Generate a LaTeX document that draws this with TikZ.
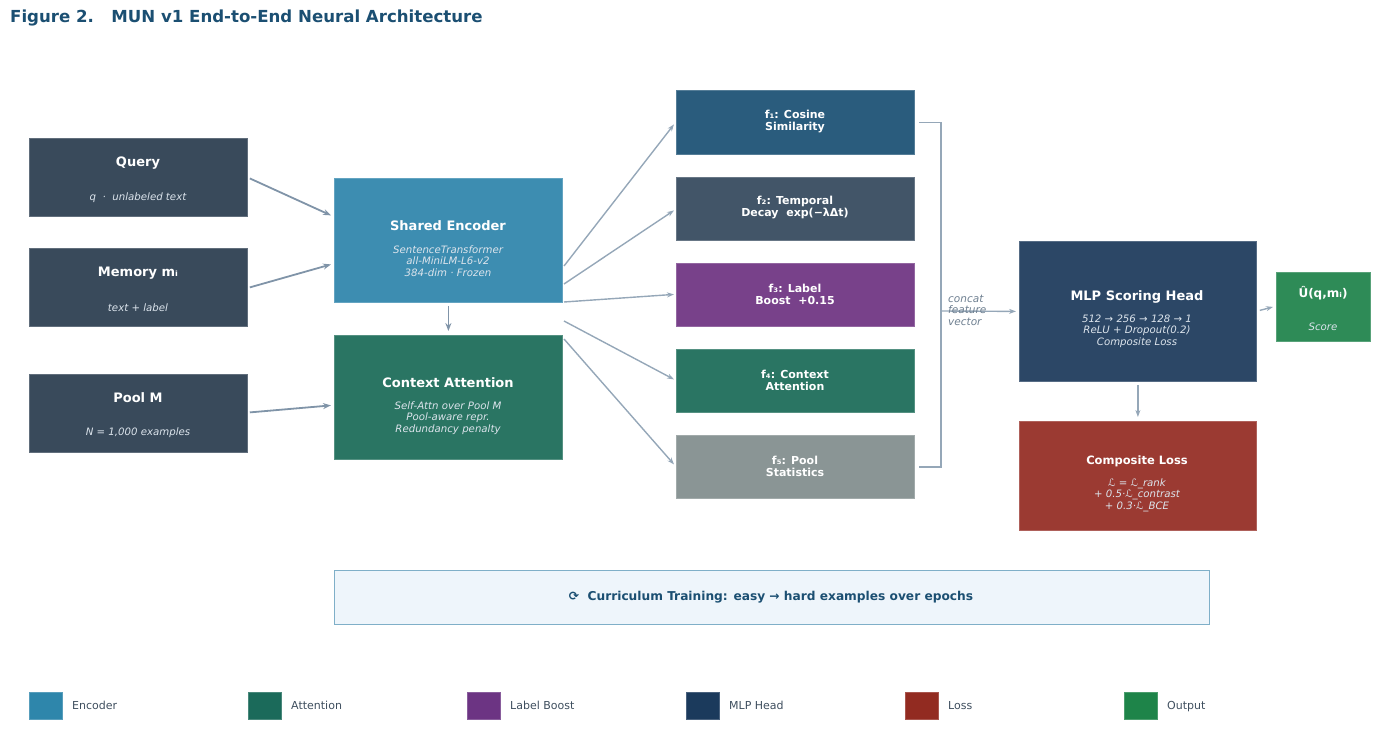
\documentclass[tikz,border=0pt]{standalone}
\usepackage{fontspec}
\setmainfont{DejaVu Sans}
\usetikzlibrary{arrows.meta,calc}
\definecolor{cinp}{HTML}{394A5B}
\definecolor{cenc}{HTML}{3D8DB1}
\definecolor{cctx}{HTML}{2A7563}
\definecolor{cfa}{HTML}{2A5C7D}
\definecolor{cfb}{HTML}{425568}
\definecolor{cfc}{HTML}{78418A}
\definecolor{cfd}{HTML}{2A7563}
\definecolor{cfe}{HTML}{8A9595}
\definecolor{cmlp}{HTML}{2C4766}
\definecolor{cscore}{HTML}{2E8B57}
\definecolor{closs}{HTML}{9B3A32}
\definecolor{ccurfill}{HTML}{EEF5FB}
\definecolor{ccurdraw}{HTML}{7FAFC8}
\definecolor{ctitle}{HTML}{1B4F72}
\definecolor{carrow}{HTML}{8094A8}
\definecolor{carrowb}{HTML}{95A7B8}
\definecolor{clegtext}{HTML}{3E4E5E}
\definecolor{csub}{HTML}{DCE4EC}
\definecolor{cconcat}{HTML}{6E7F90}
\definecolor{lgenc}{HTML}{2E86AB}
\definecolor{lgatt}{HTML}{1B6A5A}
\definecolor{lglab}{HTML}{6C3483}
\definecolor{lgmlp}{HTML}{1B3A5C}
\definecolor{lgloss}{HTML}{922B21}
\definecolor{lgout}{HTML}{1E8449}
\begin{document}
\begin{tikzpicture}[x=1pt,y=-1pt,
  box/.style={fill=#1, draw=#1!80!white, line width=0.8pt, inner sep=0pt, anchor=north west},
  ttl/.style={text=white, font=\bfseries\fontsize{13}{15}\selectfont, inner sep=0pt},
  sub/.style={text=csub, font=\itshape\fontsize{10.2}{11.5}\selectfont, align=center, inner sep=0pt},
  ftxt/.style={text=white, font=\bfseries\fontsize{11}{12}\selectfont, align=center, inner sep=0pt},
  arr/.style={-{Stealth[length=8pt,width=6pt]}, line width=1.8pt, draw=carrow},
  arrb/.style={-{Stealth[length=7pt,width=5pt]}, line width=1.4pt, draw=carrowb},
  brk/.style={line width=1.6pt, draw=carrowb},
  legsq/.style={inner sep=0pt, minimum width=33pt, minimum height=27pt, anchor=north west, fill=#1, draw=#1!80!white, line width=0.6pt},
  legtx/.style={anchor=base west, text=clegtext, font=\fontsize{11}{13}\selectfont, inner sep=0pt}
]
\useasboundingbox (0,0) rectangle (1400,752);

% title
\node[anchor=west, text=ctitle, font=\bfseries\fontsize{16.6}{18}\selectfont, inner sep=0pt] (title) at (10,18) {Figure 2.\ \ \ MUN v1 End-to-End Neural Architecture};

% inputs
\node[box=cinp, minimum width=218pt, minimum height=78pt] (query) at (29,138) {};
\node[ttl] (queryt) at (138,163) {Query};
\node[sub] (querys) at (138,198) {q \ · \ unlabeled text};

\node[box=cinp, minimum width=218pt, minimum height=78pt] (mem) at (29,248) {};
\node[ttl] (memt) at (138,273) {Memory mᵢ};
\node[sub] (mems) at (138,308) {text + label};

\node[box=cinp, minimum width=218pt, minimum height=78pt] (pool) at (29,374) {};
\node[ttl] (poolt) at (138,398) {Pool M};
\node[sub] (pools) at (138,433) {N = 1,000 examples};

% encoder & context
\node[box=cenc, minimum width=228pt, minimum height=124pt] (enc) at (334,178) {};
\node[ttl] (enct) at (448,226) {Shared Encoder};
\node[sub] (encs) at (448,261) {SentenceTransformer\\all-MiniLM-L6-v2\\384-dim · Frozen};

\node[box=cctx, minimum width=228pt, minimum height=124pt] (ctx) at (334,335) {};
\node[ttl] (ctxt) at (448,383) {Context Attention};
\node[sub] (ctxs) at (448,418) {Self-Attn over Pool M\\Pool-aware repr.\\Redundancy penalty};

% feature boxes
\node[box=cfa, minimum width=238pt, minimum height=64pt] (fa) at (676,90) {};
\node[ftxt] (fat) at (795,122) {f₁: Cosine\\Similarity};
\node[box=cfb, minimum width=238pt, minimum height=63pt] (fb) at (676,177) {};
\node[ftxt] (fbt) at (795,208) {f₂: Temporal\\Decay\ \ exp(−λΔt)};
\node[box=cfc, minimum width=238pt, minimum height=63pt] (fc) at (676,263) {};
\node[ftxt] (fct) at (795,294) {f₃: Label\\Boost\ \ +0.15};
\node[box=cfd, minimum width=238pt, minimum height=63pt] (fd) at (676,349) {};
\node[ftxt] (fdt) at (795,380) {f₄: Context\\Attention};
\node[box=cfe, minimum width=238pt, minimum height=63pt] (fe) at (676,435) {};
\node[ftxt] (fet) at (795,466) {f₅: Pool\\Statistics};

% MLP, score, loss
\node[box=cmlp, minimum width=237pt, minimum height=140pt] (mlp) at (1019,241) {};
\node[ttl] (mlpt) at (1137,297) {MLP Scoring Head};
\node[sub] (mlps) at (1137,331) {512 → 256 → 128 → 1\\ReLU + Dropout(0.2)\\Composite Loss};

\node[box=cscore, minimum width=94pt, minimum height=69pt] (score) at (1276,272) {};
\node[ttl, font=\bfseries\fontsize{12}{14}\selectfont] (scoret) at (1323,293) {Û(q,mᵢ)};
\node[sub] (scores) at (1323,327) {Score};

\node[box=closs, minimum width=237pt, minimum height=109pt] (loss) at (1019,421) {};
\node[ttl, font=\bfseries\fontsize{11.5}{13}\selectfont] (losst) at (1137,461) {Composite Loss};
\node[sub] (losss) at (1137,495) {ℒ = ℒ\_rank\\+ 0.5·ℒ\_contrast\\+ 0.3·ℒ\_BCE};

% curriculum
\node[anchor=north west, fill=ccurfill, draw=ccurdraw, line width=0.8pt, minimum width=875pt, minimum height=54pt, inner sep=0pt] (cur) at (334,570) {};
\node[text=ctitle, font=\bfseries\fontsize{12.2}{14}\selectfont, inner sep=0pt] (curt) at (771,597) {⟳\ \ Curriculum Training: easy → hard examples over epochs};

% arrows inputs -> encoder/context
\draw[arr] ($(query.east)+(2,1)$) -- ($(enc.west)+(-3,-25)$);
\draw[arr] ($(mem.east)+(2,0)$) -- ($(enc.west)+(-3,24)$);
\draw[arr] ($(pool.east)+(2,-1)$) -- ($(ctx.west)+(-3,8)$);
\draw[arr] ($(enc.south)+(0,3)$) -- ($(ctx.north)+(0,-4)$);

% encoder -> features
\coordinate (s1) at (564,266);
\coordinate (s2) at (564,284);
\coordinate (s3) at (564,302);
\coordinate (s4) at (564,321);
\coordinate (s5) at (564,339);
\draw[arrb] (s1) -- ($(fa.west)+(-2,2)$);
\draw[arrb] (s2) -- ($(fb.west)+(-2,1.5)$);
\draw[arrb] (s3) -- ($(fc.west)+(-2,-0.5)$);
\draw[arrb] (s4) -- ($(fd.west)+(-2,-1.5)$);
\draw[arrb] (s5) -- ($(fe.west)+(-2,-2.5)$);

% bracket
\draw[brk] ($(fa.east)+(4,0)$) -| ($(fe.east)+(26,0)$) -- ($(fe.east)+(4,0)$);
\coordinate (cc) at (942,311);
\draw[arrb] (cc) -- ($(mlp.west)+(-3,0)$);
\node[anchor=west, align=left, text=cconcat, font=\itshape\fontsize{10.5}{11.5}\selectfont, inner sep=0pt] (concat) at (948,310) {concat\\feature\\vector};

% MLP -> score, loss
\draw[arrb] ($(mlp.east)+(3,-1)$) -- ($(score.west)+(-3,0)$);
\draw[arrb] ($(mlp.south)+(0,3)$) -- ($(loss.north)+(0,-4)$);

% legend
\node[legsq=lgenc] (l1) at (29,692) {};
\node[legtx] (l1t) at (72,709) {Encoder};
\node[legsq=lgatt] (l2) at (248,692) {};
\node[legtx] (l2t) at (291,709) {Attention};
\node[legsq=lglab] (l3) at (467,692) {};
\node[legtx] (l3t) at (510,709) {Label Boost};
\node[legsq=lgmlp] (l4) at (686,692) {};
\node[legtx] (l4t) at (729,709) {MLP Head};
\node[legsq=lgloss] (l5) at (905,692) {};
\node[legtx] (l5t) at (948,709) {Loss};
\node[legsq=lgout] (l6) at (1124,692) {};
\node[legtx] (l6t) at (1167,709) {Output};
\end{tikzpicture}
\end{document}
